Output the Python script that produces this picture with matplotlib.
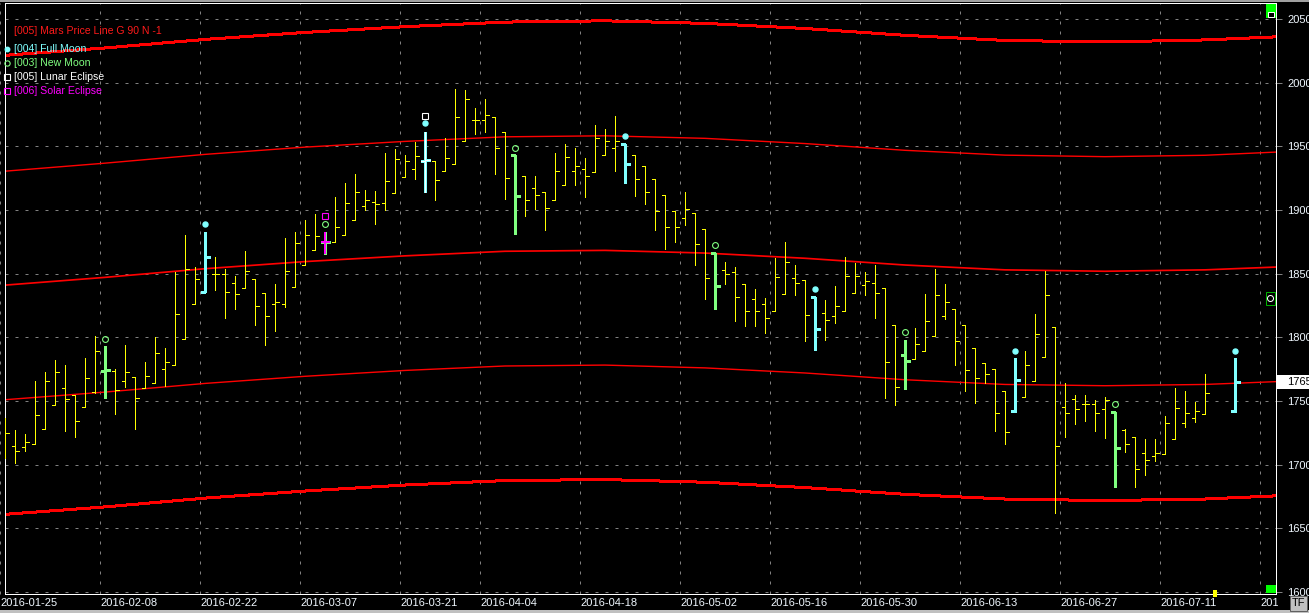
import matplotlib
matplotlib.use("Agg")
import matplotlib.pyplot as plt
from matplotlib.collections import LineCollection
from matplotlib.patches import Rectangle, Circle
from matplotlib.transforms import Bbox, TransformedBbox

W, H = 1309, 613

# trading-day index of every bar (no bars on index 121, 122)
bar_pos = list(range(121)) + [123]
opens = [1705, 1715, 1713.5, 1716, 1728, 1746.5, 1760, 1754.5, 1745, 1757,
         1773.5, 1773.5, 1766, 1769, 1760.5, 1764.5, 1775.5, 1778, 1798.5, 1826,
         1836, 1850, 1849.5, 1843, 1838.5, 1845.5, 1834.5, 1826, 1826.5, 1839.5,
         1856.5, 1868.5, 1874.5, 1874.5, 1880, 1892.5, 1903.5, 1906, 1905.5, 1913.5,
         1926, 1932.5, 1938.5, 1938.5, 1930.5, 1936, 1954, 1970.5, 1970.5, 1973,
         1961, 1943, 1927, 1917, 1914, 1907.5, 1919.5, 1930.5, 1932, 1929.5,
         1943, 1948.5, 1952, 1943.5, 1934.5, 1924, 1911.5, 1899, 1893.5, 1897.5,
         1885, 1866.5, 1852.5, 1851, 1841.5, 1830.5, 1826, 1820.5, 1834, 1846.5,
         1845, 1832, 1819, 1816.5, 1820.5, 1834.5, 1841, 1842.5, 1838.5, 1810,
         1786.5, 1783, 1789, 1801, 1816.5, 1822, 1810, 1792, 1779.5, 1775.5,
         1757.5, 1742, 1753.5, 1766, 1784.5, 1808.5, 1745, 1751.5, 1747.5, 1747.5,
         1743.5, 1741, 1727, 1721.5, 1709, 1706.5, 1708, 1720, 1732.5, 1736.5,
         1739.5, 1742]
highs = [1737, 1727, 1724, 1765.5, 1773, 1782, 1778, 1754.5, 1783.5, 1801,
         1793, 1775, 1794, 1769, 1781, 1800, 1792, 1851.5, 1880.5, 1855,
         1883, 1863, 1854, 1848, 1868, 1845.5, 1834.5, 1841.5, 1878, 1882.5,
         1892.5, 1896.5, 1883, 1910, 1921, 1928.5, 1915.5, 1915, 1945, 1948,
         1943, 1953.5, 1961.5, 1938.5, 1956.5, 1995, 1994, 1980.5, 1987, 1973,
         1961, 1943, 1927, 1926.5, 1914, 1945, 1951.5, 1949, 1940.5, 1966.5,
         1963.5, 1974, 1952, 1943.5, 1934.5, 1924, 1911.5, 1899, 1914, 1897.5,
         1885, 1866.5, 1859, 1855, 1841.5, 1838, 1831, 1862.5, 1875, 1857,
         1845, 1832, 1829.5, 1840, 1863, 1858.5, 1851.5, 1857, 1838.5, 1810,
         1798, 1807, 1834, 1853.5, 1842, 1822, 1810, 1792, 1779.5, 1775.5,
         1757.5, 1783.5, 1789.5, 1818.5, 1852, 1808.5, 1764, 1754.5, 1754.5, 1751,
         1753, 1741.5, 1728, 1721.5, 1720.5, 1720.5, 1738, 1760, 1757.5, 1749,
         1771.5, 1783.5]
lows = [1705, 1701.5, 1711, 1716, 1728, 1746.5, 1726.5, 1721.5, 1745, 1756.5,
        1752.5, 1740, 1761, 1728, 1760.5, 1764.5, 1762, 1778, 1798.5, 1826,
        1835.5, 1837.5, 1815.5, 1822.5, 1838.5, 1810, 1794, 1805, 1823.5, 1839.5,
        1856.5, 1868.5, 1865.5, 1874.5, 1880, 1892.5, 1900, 1889, 1900, 1913.5,
        1926, 1924, 1914, 1907.5, 1930.5, 1936, 1954, 1959.5, 1961.5, 1928.5,
        1908.5, 1881, 1895.5, 1901, 1884.5, 1907.5, 1919.5, 1920, 1910.5, 1929.5,
        1943, 1931, 1921, 1911, 1904.5, 1884.5, 1869.5, 1874.5, 1888.5, 1856.5,
        1830.5, 1822, 1841.5, 1812.5, 1809, 1809, 1803.5, 1820.5, 1834, 1833.5,
        1797.5, 1790, 1798, 1811.5, 1820.5, 1834.5, 1833.5, 1815.5, 1752.5, 1747,
        1759.5, 1783, 1789, 1801, 1814.5, 1778.5, 1757.5, 1748.5, 1764.5, 1726.5,
        1716.5, 1741.5, 1753.5, 1766, 1784.5, 1662, 1722, 1732, 1734.5, 1726.5,
        1721, 1682.5, 1710, 1682.5, 1691.5, 1703, 1708, 1720, 1729.5, 1733.5,
        1739.5, 1741.5]
closes = [1725, 1711, 1718, 1739, 1765.5, 1772.5, 1751.5, 1734.5, 1768, 1789,
          1774.5, 1759, 1773, 1752, 1769.5, 1787.5, 1781, 1818, 1854, 1845.5,
          1863, 1850, 1836, 1834, 1852, 1824.5, 1817, 1827.5, 1852, 1874,
          1880, 1879.5, 1874.5, 1886.5, 1905.5, 1914.5, 1907.5, 1904.5, 1922.5, 1940,
          1938.5, 1942.5, 1939, 1923.5, 1940.5, 1973, 1987, 1970.5, 1974.5, 1949,
          1925, 1911, 1907.5, 1911.5, 1901.5, 1930.5, 1941.5, 1934.5, 1926.5, 1956.5,
          1954.5, 1954, 1936, 1924, 1914.5, 1899, 1887, 1887, 1900.5, 1873,
          1846.5, 1840, 1849.5, 1831.5, 1820.5, 1821, 1815, 1847, 1859, 1843,
          1817.5, 1806.5, 1814, 1824.5, 1848, 1848, 1844, 1834.5, 1781, 1761,
          1781.5, 1794.5, 1812.5, 1833, 1827.5, 1797.5, 1774, 1768, 1771, 1740.5,
          1725.5, 1766.5, 1778, 1802.5, 1833, 1715, 1740.5, 1743.5, 1747.5, 1740.5,
          1751, 1713, 1716, 1696.5, 1704, 1709.5, 1732.5, 1744.5, 1740.5, 1742.5,
          1756, 1765]

# moon phases / eclipses: bar index and marker level
full_moon_idx = [20, 42, 62, 81, 101, 123]
full_moon_mark = [1889, 1968, 1958.5, 1838, 1789.5, 1789.5]
new_moon_idx = [10, 32, 51, 71, 90, 111]
new_moon_mark = [1799, 1889, 1949, 1872.5, 1804, 1747.5]
lunar_idx = [42]
lunar_mark = [1974]
solar_idx = [32]
solar_mark = [1895.5]

# Mars price line G 90 (five harmonics), sampled along the bar index
mars_x = [0, 10, 20, 30, 40, 50, 60, 70, 80, 90, 100, 110, 120, 127.1]
mars_e = [2021.5, 2027.3, 2034, 2039.5, 2044, 2047.6, 2048.6, 2046.6, 2042.6, 2037.2, 2033.2, 2032, 2033.6, 2036]
mars_d = [1930.5, 1936.8, 1943.7, 1949.4, 1953.9, 1957.5, 1958.3, 1956.3, 1952.2, 1946.9, 1943.1, 1941.9, 1943, 1945.5]
mars_c = [1841, 1847.1, 1853.9, 1859.5, 1864, 1867.6, 1868.3, 1866.2, 1862.1, 1856.8, 1853, 1851.9, 1853, 1855.2]
mars_b = [1751, 1757, 1763.8, 1769.4, 1774, 1777.5, 1778.2, 1776, 1772, 1766.7, 1763, 1762, 1763, 1765.2]
mars_a = [1661, 1666.8, 1673.7, 1679.3, 1684, 1687.5, 1688.3, 1686.2, 1682, 1676.7, 1673, 1671.8, 1673, 1675.5]

tick_pos = [-0.5, 9.5, 19.5, 29.5, 39.5, 47.5, 57.5, 67.5, 76.5, 85.5, 95.5, 105.5, 115.5, 125.5]
tick_labels = ["2016-01-25", "2016-02-08", "2016-02-22", "2016-03-07", "2016-03-21",
               "2016-04-04", "2016-04-18", "2016-05-02", "2016-05-16", "2016-05-30",
               "2016-06-13", "2016-06-27", "2016-07-11", "2016-07-25"]
price_ticks = list(range(1600, 2051, 50))

PX = 0.72  # one pixel in points
CYAN = '#80ffff'
GREEN = '#80ff80'

plt.rcParams['font.family'] = ['Liberation Sans', 'DejaVu Sans']

fig = plt.figure(figsize=(W / 100, H / 100), dpi=100, facecolor='black')
ax = fig.add_axes([4.5 / W, 1 - 593.5 / H, (1276 - 4.5) / W, (593.5 - 3) / H])
ax.set_facecolor('black')
ax.set_xlim(-0.05, 127.1)
ax.set_ylim(1598.8, 2062.6)

grid_kw = dict(color='#808080', lw=PX, linestyle=(0, (3, 7)), zorder=1)
for v in price_ticks:
    ax.axhline(v, **grid_kw)
for p in tick_pos:
    ax.axvline(p, clip_on=False, **grid_kw)

# Mars lines: outer ones heavy, inner ones thin
for ys, lw, aa in [(mars_e, 2, False), (mars_d, 1.4, True), (mars_c, 1.7, True),
                   (mars_b, 1.4, True), (mars_a, 2, False)]:
    ax.plot(mars_x, ys, color='#ff0000', lw=lw * PX, antialiased=aa, zorder=2)

special = set(full_moon_idx) | set(new_moon_idx)
ohlc = {i: (o, h, l, c) for i, o, h, l, c in zip(bar_pos, opens, highs, lows, closes)}


def bar_segments(idx_list, tick):
    segs = []
    for i in idx_list:
        o, h, l, c = ohlc[i]
        segs += [[(i, l), (i, h)], [(i - tick, o), (i, o)], [(i, c), (i + tick, c)]]
    return segs


plain = [i for i in bar_pos if i not in special]
ax.add_collection(LineCollection(bar_segments(plain, 0.35), colors='#ffff00',
                                 linewidths=PX, antialiaseds=False, zorder=3))
ax.add_collection(LineCollection(bar_segments(full_moon_idx, 0.45), colors=CYAN,
                                 linewidths=3 * PX, antialiaseds=False, capstyle='butt', zorder=4))
ax.add_collection(LineCollection(bar_segments(new_moon_idx, 0.45), colors=GREEN,
                                 linewidths=3 * PX, antialiaseds=False, capstyle='butt', zorder=4))
ax.add_collection(LineCollection(bar_segments(lunar_idx, 0.45), colors='white',
                                 linewidths=1 * PX, antialiaseds=False, capstyle='butt', zorder=5))
ax.add_collection(LineCollection(bar_segments(solar_idx, 0.45), colors='#ff00ff',
                                 linewidths=2 * PX, antialiaseds=False, capstyle='butt', zorder=5))

ax.plot(full_moon_idx, full_moon_mark, 'o', ms=3.6, color=CYAN, mec=CYAN, zorder=6)
ax.plot(new_moon_idx, new_moon_mark, 'o', ms=4.2, mfc='none', mec=GREEN, mew=0.8, zorder=6)
ax.plot(lunar_idx, lunar_mark, 's', ms=4, mfc='none', mec='white', mew=0.8, zorder=6)
ax.plot(solar_idx, solar_mark, 's', ms=4, mfc='none', mec='#ff00ff', mew=0.8, zorder=6)

for s in ax.spines.values():
    s.set_color('white')
    s.set_linewidth(PX)

ax.set_xticks([])
ax.set_yticks(price_ticks)
ax.yaxis.tick_right()
ax.tick_params(axis='y', colors='#808080', labelcolor='#f0f8ff', length=4, width=PX,
               pad=4, labelsize=8)

clip = TransformedBbox(Bbox([[0, 0], [1278 / W, 1]]), fig.transFigure)
for p, lab in zip(tick_pos, tick_labels):
    t = ax.text(p, -(603 - 593.5) / 590.5, lab, transform=ax.get_xaxis_transform(),
                ha='left', va='center', fontsize=8, color='#f0f8ff', clip_on=True)
    t.set_clip_box(clip)

# last price box
last = closes[-1]
ax.add_patch(Rectangle((1.001, last - 5.5), 0.026, 11, transform=ax.get_yaxis_transform(),
                       fc='white', ec='none', clip_on=False, zorder=7))
ax.text(1.0085, last, f"{last:.0f}", transform=ax.get_yaxis_transform(), ha='left',
        va='center', fontsize=8, color='black', zorder=8, clip_on=False)

# overlay in pixel coordinates for legend and frame decorations
ov = fig.add_axes([0, 0, 1, 1])
ov.set_xlim(0, W)
ov.set_ylim(H, 0)
ov.axis('off')
ov.patch.set_alpha(0)

legend = [("[005] Mars Price Line G 90 N -1", '#ff1a1a', None),
          ("[004] Full Moon", CYAN, 'dot'),
          ("[003] New Moon", GREEN, 'circle'),
          ("[005] Lunar Eclipse", 'white', 'square'),
          ("[006] Solar Eclipse", '#ff00ff', 'square')]
for k, (txt, col, mk) in enumerate(legend):
    y = 30.5 + k * 14 + (4 if k > 0 else 0)
    ov.text(14, y, txt, color=col, fontsize=7.6, va='center', ha='left')
    if mk == 'dot':
        ov.plot(7, y, 'o', ms=3.2, color=col)
    elif mk == 'circle':
        ov.plot(7, y, 'o', ms=3.8, mfc='none', mec=col, mew=0.8)
    elif mk == 'square':
        ov.plot(7, y, 's', ms=3.8, mfc='none', mec=col, mew=0.8)

ov.add_patch(Rectangle((0, 0), W, 1.5, fc='#a0a0a0', ec='none'))
ov.add_patch(Rectangle((0, 609.5), W, 4, fc='#c0c0c0', ec='none'))
ov.add_patch(Rectangle((1265.5, 4), 10, 14, fc='#00ff00', ec='none'))
ov.add_patch(Rectangle((1267.5, 12), 6, 5, fc='black', ec='white', lw=PX))
ov.add_patch(Rectangle((1266, 292), 9, 13, fc='black', ec='#00b000', lw=PX))
ov.add_patch(Circle((1270.5, 298.5), 3, fc='none', ec='white', lw=PX))
ov.add_patch(Rectangle((1266, 585), 9.5, 8, fc='#00ff00', ec='none'))
ov.add_patch(Rectangle((1213, 590), 4, 7, fc='#ffff00', ec='none'))
ov.add_patch(Rectangle((1290, 596), 17, 15, fc='#c0c0c0', ec='#606060', lw=PX))
ov.text(1298.5, 603.5, "TF", color='black', fontsize=8, ha='center', va='center')

fig.savefig("out.png", dpi=100, facecolor='black')
